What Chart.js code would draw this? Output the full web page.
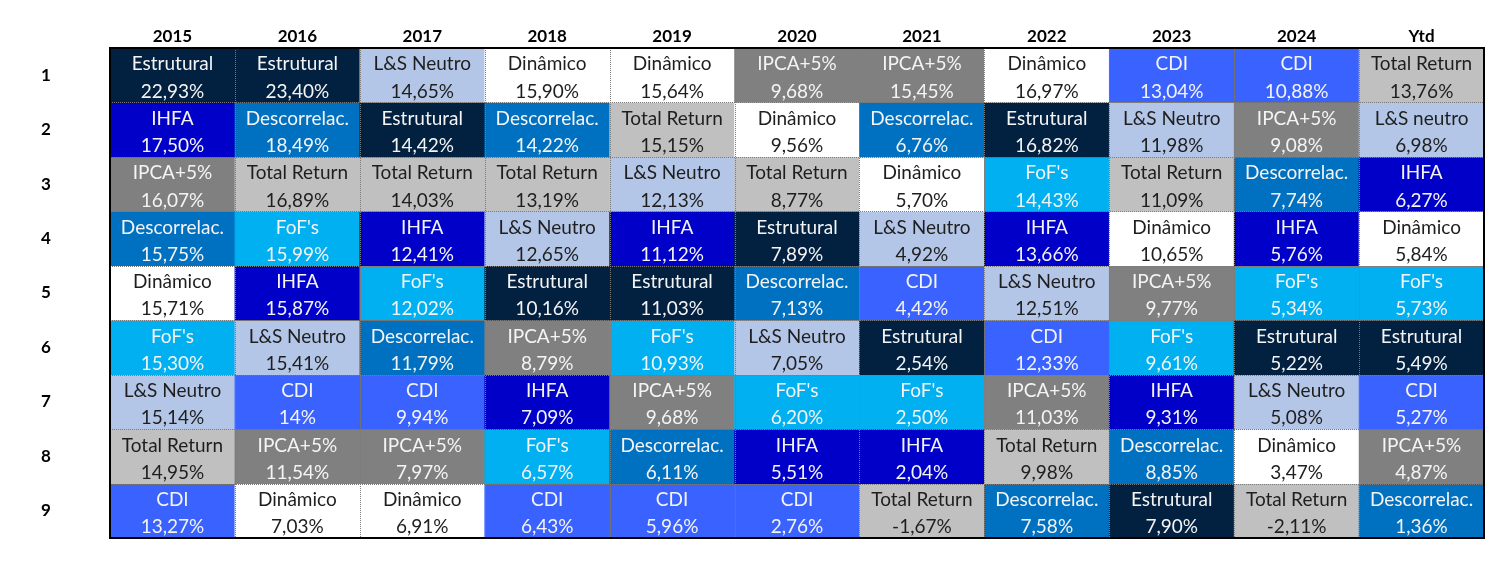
<!DOCTYPE html>
<html><head><meta charset="utf-8">
<script src="https://cdn.jsdelivr.net/npm/chart.js@4.4.1/dist/chart.umd.min.js"></script>
<style>html,body{margin:0;padding:0;background:#fff;overflow:hidden}canvas{display:block}</style>
</head><body><canvas id="c" width="1508" height="564" style="width:1508px;height:564px"></canvas>
<script>
const years = ['2015','2016','2017','2018','2019','2020','2021','2022','2023','2024','Ytd'];
const ranks = ['1','2','3','4','5','6','7','8','9'];

const funds2015 = ['Estrutural','IHFA','IPCA+5%','Descorrelac.','Dinâmico',"FoF's",'L&S Neutro','Total Return','CDI'];
const returns2015 = [22.93,17.50,16.07,15.75,15.71,15.30,15.14,14.95,13.27];
const funds2016 = ['Estrutural','Descorrelac.','Total Return',"FoF's",'IHFA','L&S Neutro','CDI','IPCA+5%','Dinâmico'];
const returns2016 = [23.40,18.49,16.89,15.99,15.87,15.41,14,11.54,7.03];
const funds2017 = ['L&S Neutro','Estrutural','Total Return','IHFA',"FoF's",'Descorrelac.','CDI','IPCA+5%','Dinâmico'];
const returns2017 = [14.65,14.42,14.03,12.41,12.02,11.79,9.94,7.97,6.91];
const funds2018 = ['Dinâmico','Descorrelac.','Total Return','L&S Neutro','Estrutural','IPCA+5%','IHFA',"FoF's",'CDI'];
const returns2018 = [15.90,14.22,13.19,12.65,10.16,8.79,7.09,6.57,6.43];
const funds2019 = ['Dinâmico','Total Return','L&S Neutro','IHFA','Estrutural',"FoF's",'IPCA+5%','Descorrelac.','CDI'];
const returns2019 = [15.64,15.15,12.13,11.12,11.03,10.93,9.68,6.11,5.96];
const funds2020 = ['IPCA+5%','Dinâmico','Total Return','Estrutural','Descorrelac.','L&S Neutro',"FoF's",'IHFA','CDI'];
const returns2020 = [9.68,9.56,8.77,7.89,7.13,7.05,6.20,5.51,2.76];
const funds2021 = ['IPCA+5%','Descorrelac.','Dinâmico','L&S Neutro','CDI','Estrutural',"FoF's",'IHFA','Total Return'];
const returns2021 = [15.45,6.76,5.70,4.92,4.42,2.54,2.50,2.04,-1.67];
const funds2022 = ['Dinâmico','Estrutural',"FoF's",'IHFA','L&S Neutro','CDI','IPCA+5%','Total Return','Descorrelac.'];
const returns2022 = [16.97,16.82,14.43,13.66,12.51,12.33,11.03,9.98,7.58];
const funds2023 = ['CDI','L&S Neutro','Total Return','Dinâmico','IPCA+5%',"FoF's",'IHFA','Descorrelac.','Estrutural'];
const returns2023 = [13.04,11.98,11.09,10.65,9.77,9.61,9.31,8.85,7.90];
const funds2024 = ['CDI','IPCA+5%','Descorrelac.','IHFA',"FoF's",'Estrutural','L&S Neutro','Dinâmico','Total Return'];
const returns2024 = [10.88,9.08,7.74,5.76,5.34,5.22,5.08,3.47,-2.11];
const fundsYtd = ['Total Return','L&S neutro','IHFA','Dinâmico',"FoF's",'Estrutural','CDI','IPCA+5%','Descorrelac.'];
const returnsYtd = [13.76,6.98,6.27,5.84,5.73,5.49,5.27,4.87,1.36];

const fundsByYear = [funds2015,funds2016,funds2017,funds2018,funds2019,funds2020,funds2021,funds2022,funds2023,funds2024,fundsYtd];
const returnsByYear = [returns2015,returns2016,returns2017,returns2018,returns2019,returns2020,returns2021,returns2022,returns2023,returns2024,returnsYtd];

// styles
const fundFill = {
  'Estrutural':'#022040','IHFA':'#0000c8','IPCA+5%':'#808080','Descorrelac.':'#0070c0',
  'Dinâmico':'#ffffff',"FoF's":'#00b0f0','L&S Neutro':'#b4c6e7','L&S neutro':'#b4c6e7',
  'Total Return':'#c0c0c0','CDI':'#3a62ff'
};
const darkText = {'Dinâmico':1,'L&S Neutro':1,'L&S neutro':1,'Total Return':1};
const FONT = 'Lato';

function fmt(v){
  const s = Number.isInteger(v) ? String(v) : v.toFixed(2);
  return s.replace('.', ',') + '%';
}

const datasets = ranks.map((r, ri) => ({
  label: 'Rank ' + r,
  data: years.map(() => [ri, ri + 1]),
  backgroundColor: years.map((y, yi) => fundFill[fundsByYear[yi][ri]]),
  borderWidth: 0,
  borderSkipped: false,
  barPercentage: 1,
  categoryPercentage: 1,
  grouped: false
}));

const cellPlugin = {
  id: 'cells',
  afterDatasetsDraw(chart) {
    const ctx = chart.ctx;
    const xs = chart.scales.x, ys = chart.scales.y, a = chart.chartArea;
    ctx.save();
    ctx.textAlign = 'center';
    ctx.textBaseline = 'middle';
    chart.data.datasets.forEach((ds, ri) => {
      chart.getDatasetMeta(ri).data.forEach((el, yi) => {
        const p = el.getProps(['x','y','base'], true);
        const top = Math.min(p.y, p.base), h = Math.abs(p.base - p.y);
        const name = fundsByYear[yi][ri];
        ctx.fillStyle = darkText[name] ? '#1e1e1e' : '#f4f4f4';
        ctx.font = '19px ' + FONT;
        ctx.fillText(name, p.x, top + h * 0.30);
        ctx.fillText(fmt(returnsByYear[yi][ri]), p.x, top + h * 0.80);
      });
    });
    ctx.strokeStyle = '#7a7a7a';
    ctx.lineWidth = 1;
    ctx.setLineDash([1, 1]);
    ctx.beginPath();
    for (let i = 1; i < years.length; i++) {
      const x = Math.round((xs.getPixelForValue(i - 1) + xs.getPixelForValue(i)) / 2) + 0.5;
      ctx.moveTo(x, a.top); ctx.lineTo(x, a.bottom);
    }
    for (let k = 1; k < ranks.length; k++) {
      const y = Math.round(ys.getPixelForValue(k)) + 0.5;
      ctx.moveTo(a.left, y); ctx.lineTo(a.right, y);
    }
    ctx.stroke();
    ctx.setLineDash([]);
    ctx.strokeStyle = '#000';
    ctx.lineWidth = 2;
    ctx.strokeRect(a.left, a.top, a.right - a.left, a.bottom - a.top);
    ctx.restore();
  }
};

new Chart(document.getElementById('c'), {
  type: 'bar',
  data: { labels: years, datasets },
  options: {
    responsive: false,
    maintainAspectRatio: false,
    animation: false,
    devicePixelRatio: 1,
    layout: { padding: { top: 0, right: 24, bottom: 26, left: 41 } },
    plugins: { legend: { display: false }, tooltip: { enabled: false } },
    scales: {
      x: {
        type: 'category',
        position: 'top',
        grid: { display: false, drawTicks: false },
        border: { display: false },
        ticks: { color: '#000', font: { family: FONT, size: 17, weight: 'bold' }, padding: 1, maxRotation: 0, autoSkip: false },
        afterFit(s) { s.height = 48; }
      },
      y: {
        type: 'linear',
        min: 0, max: ranks.length,
        reverse: true,
        afterBuildTicks(s) { s.ticks = ranks.map((r, i) => ({ value: i + 0.5 })); },
        grid: { display: false, drawTicks: false },
        border: { display: false },
        ticks: { color: '#000', font: { family: FONT, size: 17, weight: 'bold' }, padding: 0, crossAlign: 'far', autoSkip: false,
          callback(v, i) { return ranks[i]; } },
        afterFit(s) { s.width = 69; }
      }
    }
  },
  plugins: [cellPlugin]
});
</script>
</body></html>
